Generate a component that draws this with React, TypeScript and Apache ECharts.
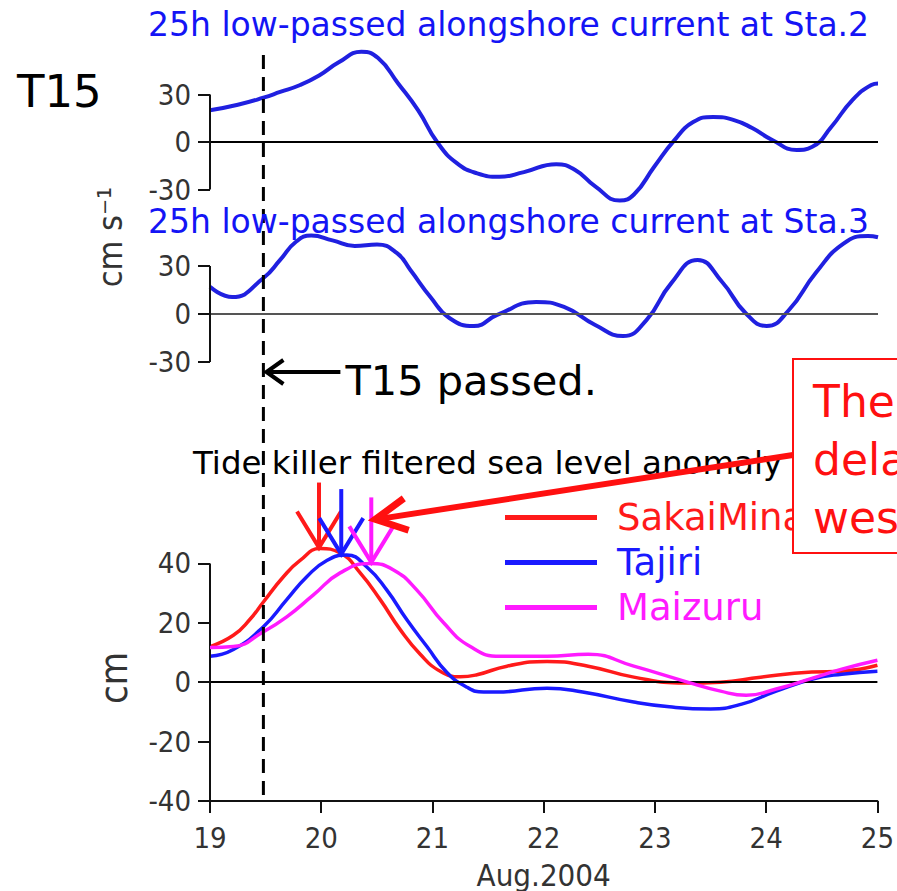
import React, { useEffect, useRef } from "react";
import * as echarts from "echarts";

// ---- data ----
const dayRange = [19, 25];
const dayTicks = [19, 20, 21, 22, 23, 24, 25];
const currentTicks = [-30, 0, 30];
const seaTicks = [-40, -20, 0, 20, 40];

const sta2Days = [19, 19.25, 19.48, 19.63, 19.81, 19.98, 20.16, 20.36, 20.51, 20.69, 20.87, 21.04, 21.22, 21.4, 21.6, 21.82, 22.11, 22.28, 22.46, 22.68, 22.81, 22.99, 23.17, 23.34, 23.52, 23.7, 23.87, 24.05, 24.27, 24.41, 24.58, 24.77, 24.94, 25];
const sta2Vals = [20, 23.5, 28, 31.6, 36, 42, 50.5, 57, 53, 37, 20, 0, -13.5, -19.8, -22, -19, -14, -17.7, -28, -37, -33, -15.6, 1, 12.6, 15.8, 14, 8.8, 1.3, -5, -3, 9.5, 26.5, 36, 37];

const sta3Days = [19, 19.2, 19.48, 19.63, 19.77, 19.91, 20.1, 20.3, 20.5, 20.68, 20.8, 20.98, 21.15, 21.37, 21.58, 21.93, 22.18, 22.46, 22.71, 22.92, 23.14, 23.38, 23.6, 23.81, 24.0, 24.2, 24.44, 24.69, 24.91, 25];
const sta3Vals = [17, 10.6, 22.5, 33.8, 45, 49, 46, 42.5, 43.5, 38, 27.5, 10.6, -2.5, -7.5, -0.6, 7.5, 4.4, -6.9, -13.8, -3.8, 19, 33.8, 20, 0.6, -7.5, 2.5, 25.6, 44, 48.8, 48];

const sakaiDays = [19, 19.21, 19.36, 19.48, 19.66, 19.81, 19.99, 20.17, 20.35, 20.53, 20.71, 20.89, 21.07, 21.25, 21.4, 21.67, 22.03, 22.4, 22.81, 23.27, 23.59, 23.95, 24.41, 24.68, 25];
const sakaiVals = [12, 15.8, 21.2, 27, 35.5, 41, 45, 43.5, 36.8, 27.8, 17.7, 9.4, 3.7, 1.8, 2.5, 5.4, 7, 5.4, 1.7, -0.3, 0, 1.7, 3.4, 3.7, 5.7];

const tajiriDays = [19, 19.21, 19.48, 19.69, 19.87, 20.05, 20.23, 20.41, 20.59, 20.77, 20.95, 21.13, 21.31, 21.46, 21.58, 22.03, 22.35, 22.81, 23.13, 23.5, 23.78, 24.09, 24.41, 24.68, 25];
const tajiriVals = [8.7, 11, 18.7, 27.8, 35.5, 41, 42.8, 38.8, 31, 21, 12, 3.3, -1.7, -3.3, -3.3, -2, -3.3, -6.7, -8.3, -9, -7.4, -3, 1, 2.7, 3.7];

const maizuruDays = [19, 19.21, 19.48, 19.69, 19.93, 20.17, 20.44, 20.65, 20.86, 21.1, 21.34, 21.61, 22.03, 22.4, 22.81, 23.27, 23.59, 23.82, 24.09, 24.41, 24.68, 25];
const maizuruVals = [11.7, 12, 17, 22, 29.4, 36.8, 40, 37.8, 31, 20, 12, 8.7, 8.7, 9.4, 5.4, 0.3, -3, -4.4, -2.3, 1.3, 4.4, 7.4];

const seaNames = ["SakaiMinato", "Tajiri", "Maizuru"];
const peakDays = [19.98, 20.18, 20.45];
const peakVals = [45, 42.8, 40];
const t15PassDay = 19.48;

const titleSta2 = "25h low-passed alongshore current at Sta.2";
const titleSta3 = "25h low-passed alongshore current at Sta.3";
const titleSea = "Tide killer filtered sea level anomaly";
const boxLines = ["The", "dela", "wes"];

// ---- styles ----
const NARROW = "'Liberation Sans Narrow', 'DejaVu Sans Condensed', 'Liberation Sans', sans-serif";
const SANS = "'DejaVu Sans', Verdana, sans-serif";
const CUR_BLUE = "#2020e0";
const TXT_BLUE = "#1414f5";
const seaColors = ["#ff1a1a", "#1a1aff", "#ff1aff"];

const zip = (d: number[], v: number[]) => d.map((x, i) => [x, v[i]]);

function yAxisOpt(grid: number, min: number, max: number, ticks: number[]) {
  return {
    gridIndex: grid,
    type: "value",
    min,
    max,
    splitLine: { show: false },
    axisLine: { show: false },
    axisTick: { show: true, length: 12, customValues: ticks, lineStyle: { color: "#111", width: 2 } },
    axisLabel: { customValues: ticks, fontSize: 29, fontFamily: NARROW, color: "#333", margin: 19 },
  };
}

function axisMark(lo: number, hi: number, zeroColor: string) {
  return {
    silent: true,
    symbol: ["none", "none"],
    label: { show: false },
    emphasis: { disabled: true },
    lineStyle: { color: "#111", width: 2, type: "solid" },
    data: [
      { yAxis: 0, lineStyle: { color: zeroColor, width: 2, type: "solid" } },
      [{ coord: [dayRange[0], lo] }, { coord: [dayRange[0], hi] }],
    ],
  };
}

export default function App() {
  const ref = useRef<HTMLDivElement>(null);
  useEffect(() => {
    const chart = echarts.init(ref.current!, null, { renderer: "svg" });
    const hiddenX = (g: number) => ({ gridIndex: g, type: "value", min: dayRange[0], max: dayRange[1], show: false });
    const seaDataSets = [zip(sakaiDays, sakaiVals), zip(tajiriDays, tajiriVals), zip(maizuruDays, maizuruVals)];
    chart.setOption({
      animation: false,
      backgroundColor: "#ffffff",
      grid: [
        { left: 210, right: 19, top: 47, height: 190 },
        { left: 210, right: 19, top: 218, height: 192 },
        { left: 210, right: 19, top: 504, height: 299 },
      ],
      xAxis: [
        hiddenX(0),
        hiddenX(1),
        {
          gridIndex: 2,
          type: "value",
          min: dayTicks[0],
          max: dayTicks[dayTicks.length - 1],
          interval: 1,
          splitLine: { show: false },
          axisLine: { show: true, onZero: false, lineStyle: { color: "#111", width: 2 } },
          axisTick: { show: true, length: 12, lineStyle: { color: "#111", width: 2 } },
          axisLabel: { fontSize: 29, fontFamily: NARROW, color: "#333", margin: 22 },
          name: "Aug.2004",
          nameLocation: "middle",
          nameGap: 58,
          nameTextStyle: { fontSize: 31, fontFamily: NARROW, color: "#333" },
        },
      ],
      yAxis: [
        yAxisOpt(0, -60, 60, currentTicks),
        yAxisOpt(1, -60, 60, currentTicks),
        yAxisOpt(2, -40, 60, seaTicks),
      ],
      legend: {
        left: 505,
        top: 499,
        padding: 0,
        orient: "vertical",
        itemWidth: 92,
        itemHeight: 5,
        itemGap: 8,
        icon: "rect",
        selectedMode: false,
        textStyle: { fontSize: 37, lineHeight: 37, fontFamily: SANS, padding: [0, 0, 0, 15] },
        data: seaNames.map((n, i) => ({ name: n, textStyle: { color: seaColors[i] } })),
      },
      series: [
        {
          name: "Sta.2",
          type: "line",
          xAxisIndex: 0,
          yAxisIndex: 0,
          data: zip(sta2Days, sta2Vals),
          smooth: 0.5,
          showSymbol: false,
          symbol: "none",
          clip: false,
          color: CUR_BLUE,
          lineStyle: { color: CUR_BLUE, width: 4 },
          markLine: axisMark(currentTicks[0], currentTicks[currentTicks.length - 1], "#000"),
          z: 3,
        },
        {
          name: "Sta.3",
          type: "line",
          xAxisIndex: 1,
          yAxisIndex: 1,
          data: zip(sta3Days, sta3Vals),
          smooth: 0.5,
          showSymbol: false,
          symbol: "none",
          clip: false,
          color: CUR_BLUE,
          lineStyle: { color: CUR_BLUE, width: 4 },
          markLine: axisMark(currentTicks[0], currentTicks[currentTicks.length - 1], "#555"),
          z: 3,
        },
        ...seaNames.map((n, i) => ({
          name: n,
          type: "line",
          xAxisIndex: 2,
          yAxisIndex: 2,
          data: seaDataSets[i],
          smooth: 0.5,
          showSymbol: false,
          symbol: "none",
          clip: false,
          color: seaColors[i],
          lineStyle: { color: seaColors[i], width: 3.5 },
          markLine: i === 0 ? axisMark(seaTicks[0], seaTicks[seaTicks.length - 1], "#000") : undefined,
          z: 3 + i,
        })),
      ],
    });

    const P = (g: number, x: number, y: number) => chart.convertToPixel({ gridIndex: g } as any, [x, y]) as number[];
    const dx = P(2, t15PassDay, 0)[0];
    const txt = (x: number, y: number, text: string, fontSize: number, fill: string, extra: any = {}) => ({
      type: "text",
      x,
      y,
      z: 50,
      style: { text, fontSize, fontFamily: SANS, fill, textAlign: "left", textVerticalAlign: "middle", ...extra },
    });
    const elements: any[] = [];
    // titles and labels
    elements.push(txt(148, 24, titleSta2, 33, TXT_BLUE));
    elements.push(txt(148, 221, titleSta3, 33, TXT_BLUE));
    elements.push(txt(17, 91, "T15", 45, "#000"));
    elements.push(txt(193, 463, titleSea, 32.5, "#000"));
    elements.push({
      type: "text", x: 110, y: 237, rotation: Math.PI / 2, z: 50,
      style: { text: "cm s\u207B\u00B9", fontSize: 34, fontFamily: NARROW, fill: "#333", textAlign: "center", textVerticalAlign: "middle" },
    });
    elements.push({
      type: "text", x: 114, y: 678, rotation: Math.PI / 2, z: 50,
      style: { text: "cm", fontSize: 38, fontFamily: NARROW, fill: "#333", textAlign: "center", textVerticalAlign: "middle" },
    });
    // dashed T15 passage line
    elements.push({
      type: "line", z: 40,
      shape: { x1: dx, y1: 55, x2: dx, y2: 796 },
      style: { stroke: "#000", lineWidth: 3, lineDash: [14, 8] },
    });
    // T15 passed arrow
    const ay = 372;
    elements.push({ type: "line", z: 40, shape: { x1: dx + 4, y1: ay, x2: dx + 77, y2: ay }, style: { stroke: "#000", lineWidth: 4 } });
    elements.push({
      type: "polyline", z: 40,
      shape: { points: [[dx + 20, ay - 12], [dx + 3, ay], [dx + 20, ay + 12]] },
      style: { stroke: "#000", lineWidth: 4, fill: null },
    });
    elements.push(txt(dx + 82, 380, "T15 passed.", 41.5, "#000"));
    // peak arrows
    const tips: number[][] = [];
    peakDays.forEach((d, i) => {
      const [tx, ty] = P(2, d, peakVals[i]);
      tips.push([tx, ty]);
      elements.push({ type: "line", z: 45 + i, shape: { x1: tx, y1: ty - 66, x2: tx, y2: ty - 2 }, style: { stroke: seaColors[i], lineWidth: 4 } });
      elements.push({
        type: "polyline", z: 45 + i,
        shape: { points: [[tx - 22, ty - 37], [tx, ty - 1], [tx + 22, ty - 37]] },
        style: { stroke: seaColors[i], lineWidth: 4, fill: null },
      });
    });
    // big red arrow toward the peaks
    const tip = [tips[2][0] + 2, tips[2][1] - 44];
    const tail = [793, 455];
    const ang = Math.atan2(tail[1] - tip[1], tail[0] - tip[0]);
    const bl = 37, spread = 0.45;
    const b1 = [tip[0] + bl * Math.cos(ang - spread), tip[1] + bl * Math.sin(ang - spread)];
    const b2 = [tip[0] + bl * Math.cos(ang + spread), tip[1] + bl * Math.sin(ang + spread)];
    elements.push({ type: "line", z: 60, shape: { x1: tip[0] + 3, y1: tip[1], x2: tail[0], y2: tail[1] }, style: { stroke: "#ff1010", lineWidth: 6 } });
    elements.push({
      type: "polyline", z: 60,
      shape: { points: [b1, [tip[0] + 2, tip[1]], b2] },
      style: { stroke: "#ff1010", lineWidth: 7, fill: null, lineJoin: "miter" },
    });
    // red annotation box
    elements.push({
      type: "rect", z: 100,
      shape: { x: 793, y: 359, width: 140, height: 194 },
      style: { fill: "#ffffff", stroke: "#ff1010", lineWidth: 2 },
    });
    boxLines.forEach((t, i) => {
      const e = txt(813, 401 + i * 58, t, 44, "#ff1010");
      e.z = 101;
      elements.push(e);
    });
    chart.setOption({ graphic: { elements } });
    return () => chart.dispose();
  }, []);
  return <div ref={ref} style={{ position: "absolute", left: 0, top: 0, width: 897, height: 891 }} />;
}
